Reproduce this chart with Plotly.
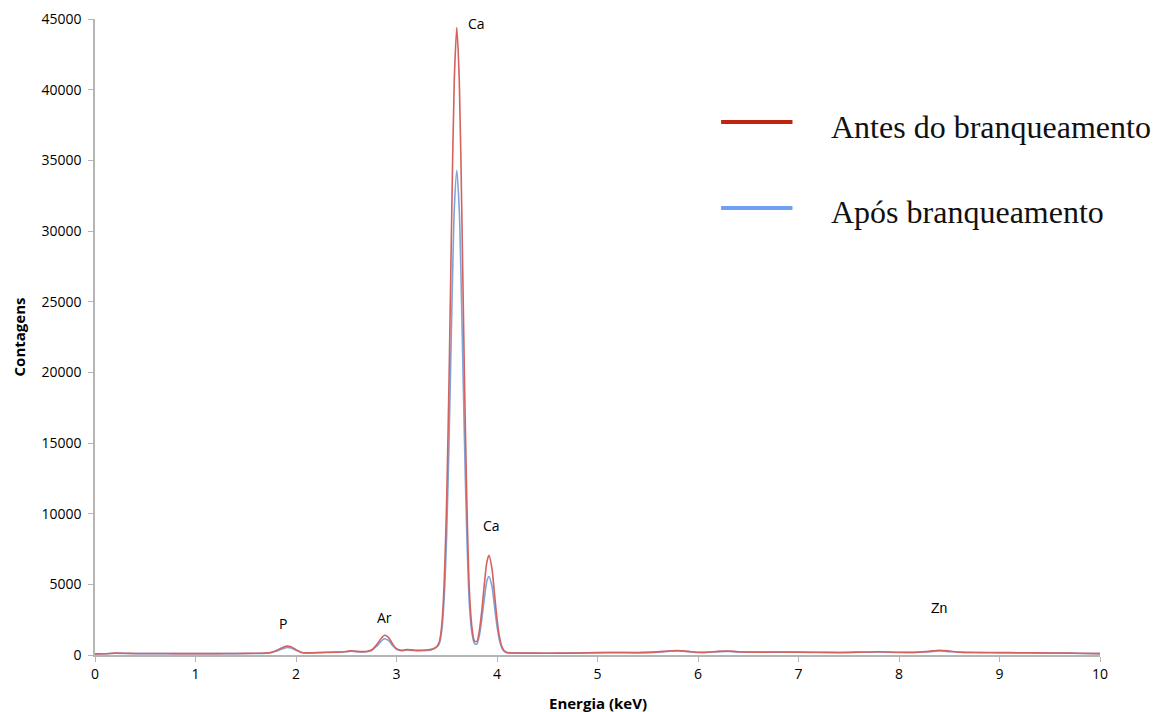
import plotly.graph_objects as go

# Energy (keV) sample points and counts
energy_antes = [0.00, 0.10, 0.20, 0.30, 0.40, 0.60, 0.80, 1.00, 1.20, 1.40, 1.60, 1.70, 1.75, 1.80, 1.85,
                1.90, 1.95, 2.00, 2.05, 2.10, 2.20, 2.30, 2.40, 2.50, 2.55, 2.60, 2.70, 2.75, 2.80, 2.85,
                2.88, 2.92, 2.96, 3.00, 3.05, 3.10, 3.15, 3.20, 3.30, 3.35, 3.40, 3.425, 3.45, 3.475, 3.50,
                3.525, 3.55, 3.575, 3.60, 3.625, 3.65, 3.675, 3.70, 3.725, 3.75, 3.775, 3.80, 3.825, 3.85,
                3.875, 3.90, 3.92, 3.95, 3.975, 4.00, 4.025, 4.05, 4.075, 4.10, 4.20, 4.40, 4.60, 4.80,
                5.00, 5.20, 5.40, 5.60, 5.70, 5.80, 5.90, 6.00, 6.10, 6.20, 6.30, 6.40, 6.60, 6.80, 7.00,
                7.20, 7.40, 7.60, 7.80, 8.00, 8.20, 8.30, 8.40, 8.50, 8.60, 8.80, 9.00, 9.20, 9.40, 9.60,
                9.80, 10.00]
counts_antes = [80, 90, 130, 120, 110, 110, 100, 100, 100, 110, 120, 140, 180, 300, 480,
                620, 580, 380, 200, 150, 170, 190, 200, 250, 300, 260, 250, 350, 700, 1200,
                1400, 1250, 800, 450, 330, 380, 360, 330, 350, 400, 600, 900, 2100, 5200, 11200,
                20400, 31400, 40700, 44400, 40600, 31200, 20100, 10800, 4600, 2000, 1000, 960, 1750, 3220,
                5090, 6610, 7050, 6100, 4340, 2545, 1270, 570, 280, 180, 140, 130, 130, 140,
                170, 180, 170, 220, 280, 320, 260, 190, 200, 260, 280, 230, 200, 210, 200,
                190, 180, 200, 230, 190, 200, 260, 340, 280, 200, 180, 170, 160, 150, 140,
                120, 100]

energy_apos = energy_antes
counts_apos = [75, 85, 120, 110, 100, 100, 95, 95, 95, 100, 110, 130, 170, 260, 400,
               520, 490, 330, 180, 140, 160, 180, 190, 230, 270, 240, 230, 320, 600, 1000,
               1150, 1030, 680, 400, 300, 350, 330, 310, 330, 380, 550, 780, 1700, 4100, 8700,
               15800, 24300, 31500, 34300, 31400, 24100, 15600, 8400, 3600, 1600, 820, 780, 1400, 2600,
               4050, 5250, 5550, 4850, 3450, 2050, 1020, 470, 240, 170, 130, 120, 120, 130,
               160, 170, 160, 200, 260, 290, 240, 180, 190, 240, 260, 220, 190, 200, 190,
               180, 170, 190, 215, 180, 190, 230, 290, 240, 190, 170, 160, 150, 140, 130,
               110, 95]

series_names = ["Antes do branqueamento", "Após branqueamento"]

peak_labels = ["Ca", "Ca", "Ar", "P", "Zn"]
peak_label_x = [3.80, 3.95, 2.88, 1.87, 8.40]
peak_label_y = [44650, 9130, 2620, 2260, 3330]

x_ticks = [0, 1, 2, 3, 4, 5, 6, 7, 8, 9, 10]
y_ticks = [0, 5000, 10000, 15000, 20000, 25000, 30000, 35000, 40000, 45000]

fig = go.Figure()
fig.add_trace(go.Scatter(x=energy_apos, y=counts_apos, mode="lines", name=series_names[1],
                         line=dict(color="#7fa3d9", width=1.6, shape="spline", smoothing=0.7),
                         showlegend=False))
fig.add_trace(go.Scatter(x=energy_antes, y=counts_antes, mode="lines", name=series_names[0],
                         line=dict(color="#d4625f", width=1.6, shape="spline", smoothing=0.7),
                         showlegend=False))

for t, x, y in zip(peak_labels, peak_label_x, peak_label_y):
    if t == "Zn":
        fnt = dict(family="Liberation Sans, Arial", size=14, color="#000")
    else:
        fnt = dict(family="Open Sans", size=14, color="#000")
    fig.add_annotation(x=x, y=y, text=t, showarrow=False, xanchor="center", yanchor="middle", font=fnt)

# Manual legend (long swatches, wide gap like the reference)
legend_line_y = [0.838, 0.703]
legend_text_y = [0.830, 0.697]
legend_colors = ["#c0230e", "#6fa0f2"]
for name, ly, ty, col in zip(series_names, legend_line_y, legend_text_y, legend_colors):
    fig.add_shape(type="line", xref="paper", yref="paper", x0=0.623, x1=0.694, y0=ly, y1=ly,
                  line=dict(color=col, width=4))
    fig.add_annotation(xref="paper", yref="paper", x=0.73, y=ty, text=name, showarrow=False,
                       xanchor="left", yanchor="middle",
                       font=dict(family="Liberation Serif, Times New Roman", size=32, color="#111"))

# X axis title placed as annotation below the tick labels
fig.add_annotation(xref="paper", yref="paper", x=0.5, y=-0.0755, text="<b>Energia (keV)</b>",
                   showarrow=False, xanchor="center", yanchor="middle",
                   font=dict(family="Open Sans", size=15, color="#000"))

fig.update_layout(
    width=1154, height=712,
    margin=dict(l=95, r=54, t=19, b=57),
    paper_bgcolor="white", plot_bgcolor="white",
    font=dict(family="Open Sans", size=14, color="#000"),
)
fig.update_xaxes(range=[0, 10], tickvals=x_ticks, ticktext=[str(v) for v in x_ticks],
                 showgrid=False, zeroline=False, showline=True, linecolor="#b5b5b5", linewidth=1.5,
                 ticks="outside", ticklen=5, tickcolor="#b5b5b5", automargin=False,
                 tickfont=dict(family="Open Sans", size=14, color="#000"))
fig.update_yaxes(range=[0, 45000], tickvals=y_ticks, ticktext=[str(v) for v in y_ticks],
                 showgrid=False, zeroline=False, showline=True, linecolor="#b5b5b5", linewidth=1.5,
                 ticks="outside", ticklen=5, tickcolor="#b5b5b5", ticklabelstandoff=4, automargin=False,
                 tickfont=dict(family="Open Sans", size=14, color="#000"),
                 title=dict(text="<b>Contagens</b>", standoff=12,
                            font=dict(family="Open Sans", size=15, color="#000")))

fig.write_html("out.html")
